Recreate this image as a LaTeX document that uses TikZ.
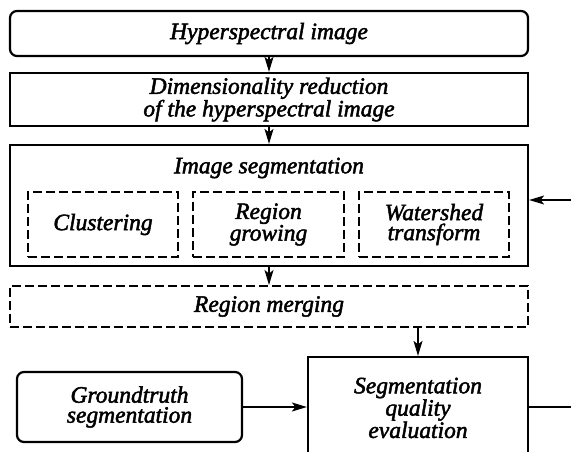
\documentclass[tikz,border=0pt]{standalone}
\usepackage{fontspec}
\setmainfont{Liberation Serif}[ItalicFeatures={FakeBold=2}]
\usetikzlibrary{arrows.meta}

\tikzset{
  lbl/.style={font=\fontsize{23.5}{20}\selectfont\itshape, align=center, inner sep=0pt},
  solidbox/.style={lbl, draw, line width=2.2pt},
  roundbox/.style={solidbox, rounded corners=7pt},
  dashbox/.style={lbl, draw, line width=2pt, dash pattern=on 9pt off 4pt},
  arr/.style={line width=1.3pt, -{Stealth[length=15pt,width=9pt,inset=3.5pt]}},
  plainline/.style={line width=1.3pt}
}

\begin{document}
\begin{tikzpicture}[x=1pt, y=-1pt]
  \clip (0,0) rectangle (571,452);

  % main chain
  \node[roundbox, minimum width=518pt, minimum height=45pt] (hyp) at (269,33.5) {Hyperspectral image};
  \node[solidbox, minimum width=518pt, minimum height=53pt] (dim) at (269,99.5)
    {Dimensionality reduction\\of the hyperspectral image};
  \node[solidbox, minimum width=518pt, minimum height=121pt] (seg) at (269,205.5) {};
  \node[lbl] (segtitle) at (269,168) {Image segmentation};

  % segmentation methods
  \node[dashbox, minimum width=150pt, minimum height=65pt] (clu) at (103,224.5) {Clustering};
  \node[dashbox, minimum width=151pt, minimum height=65pt] (rgr) at (268.5,224.5) {Region\\growing};
  \node[dashbox, minimum width=150pt, minimum height=65pt] (wat) at (434,224.5) {Watershed\\transform};

  \node[dashbox, minimum width=518pt, minimum height=41pt] (mer) at (269,306.5) {Region merging};

  % evaluation
  \node[solidbox, minimum width=220pt, minimum height=102pt] (eval) at (418,408)
    {Segmentation\\quality\\evaluation};
  \node[roundbox, minimum width=225pt, minimum height=70pt] (gt) at (129.5,407)
    {Groundtruth\\segmentation};

  % feedback loop ends
  \coordinate (fbout) at (580,407);
  \coordinate (fbin) at (580,200);

  % connectors
  \draw[arr] (hyp) -- (dim);
  \draw[arr] (dim) -- (seg);
  \draw[arr] (seg) -- (mer);
  \draw[arr] (mer.south -| eval) -- (eval);
  \draw[arr] (gt.east) -- (gt.east -| eval.west);
  \draw[plainline] (eval.east |- fbout) -- (fbout);
  \draw[arr] (fbin) -- (fbin -| seg.east);
\end{tikzpicture}
\end{document}
